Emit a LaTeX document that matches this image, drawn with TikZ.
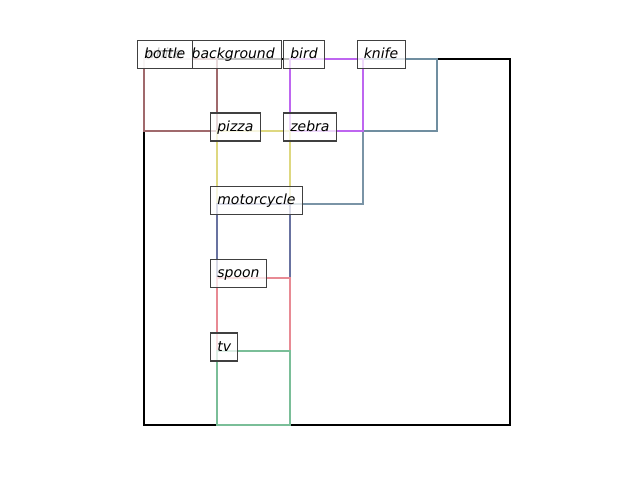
\documentclass[tikz,border=0pt]{standalone}
\usepackage{fontspec}
\setmainfont{DejaVu Sans}
\begin{document}
\begin{tikzpicture}[x=1pt,y=-1pt,
  box/.style={line width=2.4pt},
  lbl/.style={draw=black!75, line width=1.1pt, fill=white, fill opacity=0.75, text opacity=1,
    anchor=west, inner xsep=6.8pt, inner ysep=0pt, minimum height=28pt,
    text height=11pt, text depth=3pt,
    font=\fontsize{14}{15}\selectfont\itshape}]
\definecolor{cbottle}{RGB}{160,105,108}
\definecolor{cpizza}{RGB}{222,216,128}
\definecolor{cbird}{RGB}{190,102,240}
\definecolor{cknife}{RGB}{112,142,160}
\definecolor{czebra}{RGB}{122,148,166}
\definecolor{cmoto}{RGB}{104,114,160}
\definecolor{cspoon}{RGB}{232,138,148}
\definecolor{ctv}{RGB}{122,190,152}
\useasboundingbox (0,0) rectangle (640,480);
% background object
\draw[box,black] (144,59) rectangle (510,425);
% objects
\draw[box,cbottle] (144,59) rectangle (217,131);
\draw[box,czebra] (290,131) rectangle (363,204);
\draw[box,cknife] (363,59) rectangle (437,131);
\draw[box,cbird] (290,59) rectangle (363,131);
\draw[box,cpizza] (217,131) rectangle (290,204);
\draw[box,cmoto] (217,204) rectangle (290,278);
\draw[box,cspoon] (217,278) rectangle (290,351);
\draw[box,ctv] (217,351) rectangle (290,425);
% labels
\node[lbl] (lwb) at (137,54.5) {white\hspace{4.5pt} background};
\node[lbl] (lbottle) at (137,54.5) {bottle};
\node[lbl] (lbird) at (283,54.5) {bird};
\node[lbl] (lknife) at (356.5,54.5) {knife};
\node[lbl] (lpizza) at (210,127) {pizza};
\node[lbl] (lzebra) at (283,127) {zebra};
\node[lbl] (lmoto) at (210,200.5) {motorcycle};
\node[lbl] (lspoon) at (210,273.5) {spoon};
\node[lbl] (ltv) at (210,347) {tv};
\end{tikzpicture}
\end{document}
